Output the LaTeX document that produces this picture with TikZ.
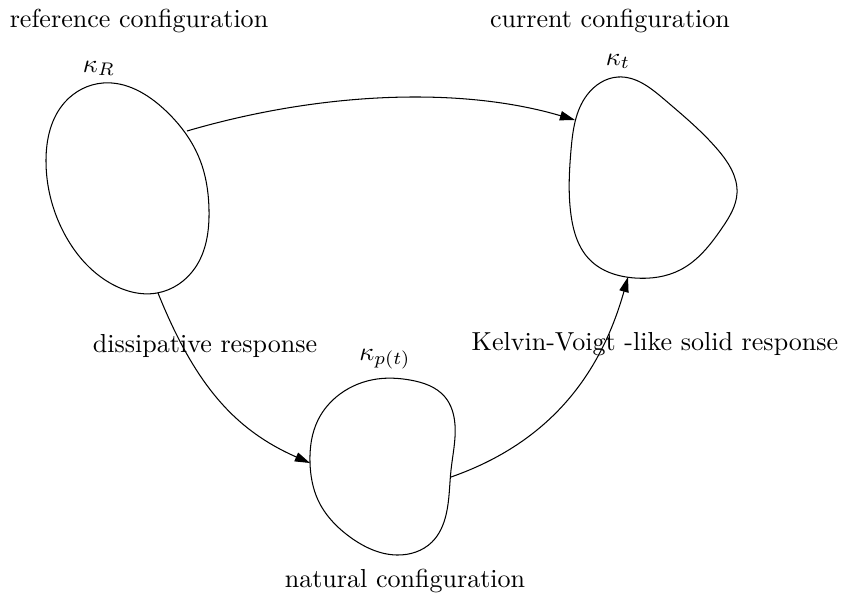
\documentclass[tikz,border=0pt]{standalone}
\usetikzlibrary{arrows.meta,hobby}
\begin{document}
\begin{tikzpicture}[x=0.384pt,y=-0.384pt,line width=0.4pt,
  blob/.style={draw,line width=0.4pt,use Hobby shortcut,closed=true},
  conn/.style={draw,line width=0.4pt,-{Triangle[length=5.8pt,width=3.6pt]}},
  lbl/.style={anchor=base,inner sep=0pt,font=\fontsize{10}{12}\selectfont}]
\useasboundingbox (0,0) rectangle (843,595);
% shapes (configurations)
\draw[blob] (103,83) .. (165,110) .. (200,160) .. (209,210) .. (195,268) .. (157,293) .. (110,283) .. (64,233) .. (46,160) .. (65,102) .. (103,83);
\draw[blob] (618,77) .. (665,100) .. (718,150) .. (737,193) .. (722,228) .. (680,270) .. (635,278) .. (590,260) .. (571,215) .. (571,150) .. (587,95) .. (618,77);
\draw[blob] (377,379) .. (410,380) .. (445,397) .. (455,425) .. (451,470) .. (446,515) .. (432,542) .. (397,555) .. (350,537) .. (318,500) .. (310,463) .. (318,420) .. (340,394) .. (377,379);
% connector end points on the shapes
\coordinate (Rright) at (187,131);
\coordinate (Rbottom) at (158,293);
\coordinate (tleft) at (575,120);
\coordinate (tbottom) at (628,277);
\coordinate (pleft) at (310,463);
\coordinate (pright) at (451,477);
% labels
\node[lbl] (refl) at (139,27) {reference configuration};
\node[lbl] (curl) at (610,27) {current configuration};
\node[lbl] (kR) at (99,72) {$\kappa_R$};
\node[lbl] (kt) at (618,65) {$\kappa_t$};
\node[lbl] (kp) at (385,360) {$\kappa_{p(t)}$};
\node[lbl] (diss) at (205,352) {dissipative response};
\node[lbl] (kv) at (655,350) {Kelvin-Voigt -like solid response};
\node[lbl] (nat) at (405,587) {natural configuration};
% connectors
\draw[conn] (Rright) .. controls (320,92) and (460,86) .. (tleft);
\draw[conn] (Rbottom) .. controls (195,385) and (235,430) .. (pleft);
\draw[conn] (pright) .. controls (551,442) and (601,373) .. (tbottom);
\end{tikzpicture}
\end{document}
